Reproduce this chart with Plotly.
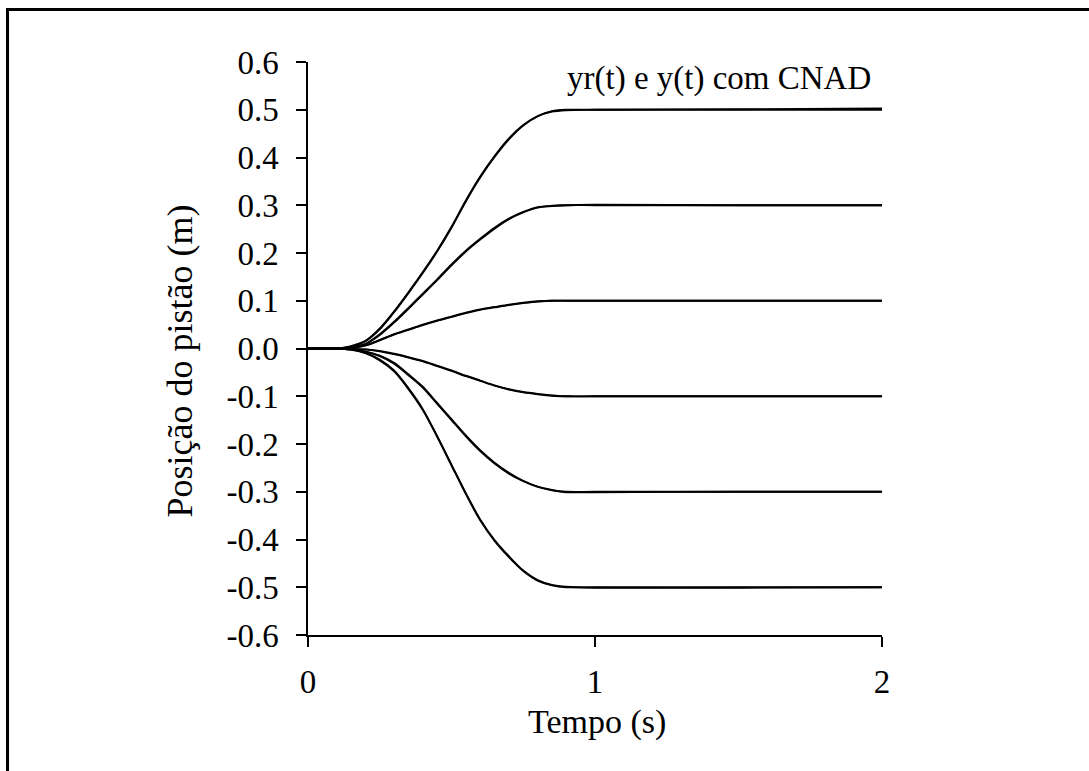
import plotly.graph_objects as go

# Time samples (s)
t = [0.0, 0.1, 0.15, 0.2, 0.25, 0.3, 0.35, 0.4, 0.45, 0.5, 0.55, 0.6, 0.65, 0.7,
     0.75, 0.8, 0.85, 0.9, 1.0, 1.5, 2.0]

# Reference trajectories yr(t) (m)
yr_p05 = [0, 0, 0.005, 0.016, 0.042, 0.078, 0.118, 0.160, 0.205, 0.255, 0.310, 0.360,
          0.403, 0.440, 0.468, 0.487, 0.497, 0.500, 0.500, 0.500, 0.500]
yr_p03 = [0, 0, 0.003, 0.010, 0.030, 0.056, 0.085, 0.115, 0.145, 0.176, 0.205, 0.230,
          0.253, 0.272, 0.286, 0.296, 0.299, 0.300, 0.300, 0.300, 0.300]
yr_p01 = [0, 0, 0.002, 0.007, 0.018, 0.030, 0.040, 0.050, 0.059, 0.067, 0.075, 0.082,
          0.087, 0.092, 0.096, 0.099, 0.100, 0.100, 0.100, 0.100, 0.100]
yr_m01 = [0, 0, -0.001, -0.002, -0.006, -0.012, -0.019, -0.027, -0.037, -0.047, -0.058, -0.068,
          -0.078, -0.086, -0.092, -0.096, -0.099, -0.100, -0.100, -0.100, -0.100]
yr_m03 = [0, 0, -0.002, -0.007, -0.016, -0.032, -0.056, -0.082, -0.116, -0.150, -0.184, -0.215,
          -0.241, -0.262, -0.278, -0.290, -0.297, -0.300, -0.300, -0.300, -0.300]
yr_m05 = [0, 0, -0.003, -0.010, -0.025, -0.048, -0.085, -0.129, -0.185, -0.245, -0.305, -0.360,
          -0.403, -0.437, -0.466, -0.486, -0.496, -0.500, -0.500, -0.500, -0.500]

# Measured piston position y(t) with the CNAD controller (m)
y_p05 = [0, 0, 0.004, 0.015, 0.040, 0.076, 0.116, 0.158, 0.203, 0.253, 0.308, 0.358,
         0.401, 0.438, 0.467, 0.486, 0.496, 0.499, 0.500, 0.501, 0.503]
y_p03 = [0, 0, 0.002, 0.009, 0.028, 0.054, 0.083, 0.113, 0.143, 0.174, 0.203, 0.228,
         0.251, 0.271, 0.285, 0.295, 0.298, 0.300, 0.301, 0.300, 0.300]
y_p01 = [0, 0, 0.001, 0.006, 0.017, 0.029, 0.039, 0.049, 0.058, 0.066, 0.074, 0.081,
         0.086, 0.091, 0.095, 0.098, 0.100, 0.100, 0.100, 0.100, 0.100]
y_m01 = [0, 0, -0.001, -0.002, -0.005, -0.011, -0.018, -0.026, -0.036, -0.046, -0.057, -0.067,
         -0.077, -0.085, -0.091, -0.095, -0.098, -0.100, -0.100, -0.100, -0.100]
y_m03 = [0, 0, -0.002, -0.006, -0.015, -0.030, -0.054, -0.080, -0.114, -0.148, -0.182, -0.213,
         -0.239, -0.260, -0.277, -0.289, -0.296, -0.301, -0.301, -0.300, -0.300]
y_m05 = [0, 0, -0.002, -0.009, -0.023, -0.046, -0.083, -0.127, -0.183, -0.243, -0.303, -0.358,
         -0.401, -0.435, -0.465, -0.485, -0.495, -0.499, -0.501, -0.501, -0.500]

y_ticks = [-0.6, -0.5, -0.4, -0.3, -0.2, -0.1, 0.0, 0.1, 0.2, 0.3, 0.4, 0.5, 0.6]
y_tick_text = ["-0.6", "-0.5", "-0.4", "-0.3", "-0.2", "-0.1", "0.0", "0.1", "0.2", "0.3", "0.4", "0.5", "0.6"]
x_ticks = [0, 1, 2]

FONT = "Liberation Serif"

fig = go.Figure()
for series in (yr_p05, yr_p03, yr_p01, yr_m01, yr_m03, yr_m05,
               y_p05, y_p03, y_p01, y_m01, y_m03, y_m05):
    fig.add_trace(go.Scatter(
        x=t, y=series, mode="lines",
        line=dict(color="black", width=1.8, shape="spline", smoothing=0.8),
        showlegend=False, hoverinfo="skip",
    ))

fig.add_annotation(
    x=1.969, y=0.565, xref="x", yref="y", xanchor="right", yanchor="middle",
    text="yr(t) e y(t) com CNAD", showarrow=False,
    font=dict(family=FONT, size=33, color="black"),
)

# Axis titles
fig.add_annotation(
    x=-0.223, y=0.479, xref="paper", yref="paper", xanchor="center", yanchor="middle",
    text="Posição do pistão (m)", textangle=-90, showarrow=False,
    font=dict(family=FONT, size=36, color="black"),
)
fig.add_annotation(
    x=0.503, y=-0.152, xref="paper", yref="paper", xanchor="center", yanchor="middle",
    text="Tempo (s)", showarrow=False,
    font=dict(family=FONT, size=34, color="black"),
)

# Outer frame
fig.add_shape(
    type="rect", xref="paper", yref="paper",
    x0=-0.5235, x1=1.45, y0=-0.3, y1=1.0916,
    line=dict(color="black", width=3), fillcolor="rgba(0,0,0,0)", layer="below",
)

fig.update_layout(
    width=1089, height=771,
    margin=dict(l=308, r=207, t=62, b=136, autoexpand=False),
    paper_bgcolor="white", plot_bgcolor="white",
    font=dict(family=FONT, size=33, color="black"),
    xaxis=dict(
        range=[0, 2], tickvals=x_ticks, ticktext=[str(v) for v in x_ticks],
        showline=True, linecolor="black", linewidth=1.5,
        ticks="outside", ticklen=10, tickwidth=1.5, tickcolor="black",
        showgrid=False, zeroline=False, ticklabelstandoff=7,
        tickfont=dict(family=FONT, size=33, color="black"),
    ),
    yaxis=dict(
        range=[-0.6, 0.6], tickvals=y_ticks, ticktext=y_tick_text,
        showline=True, linecolor="black", linewidth=1.5,
        ticks="outside", ticklen=10, tickwidth=1.5, tickcolor="black",
        showgrid=False, zeroline=False, ticklabelstandoff=11,
        tickfont=dict(family=FONT, size=33, color="black"),
    ),
)

fig.write_html("out.html")
